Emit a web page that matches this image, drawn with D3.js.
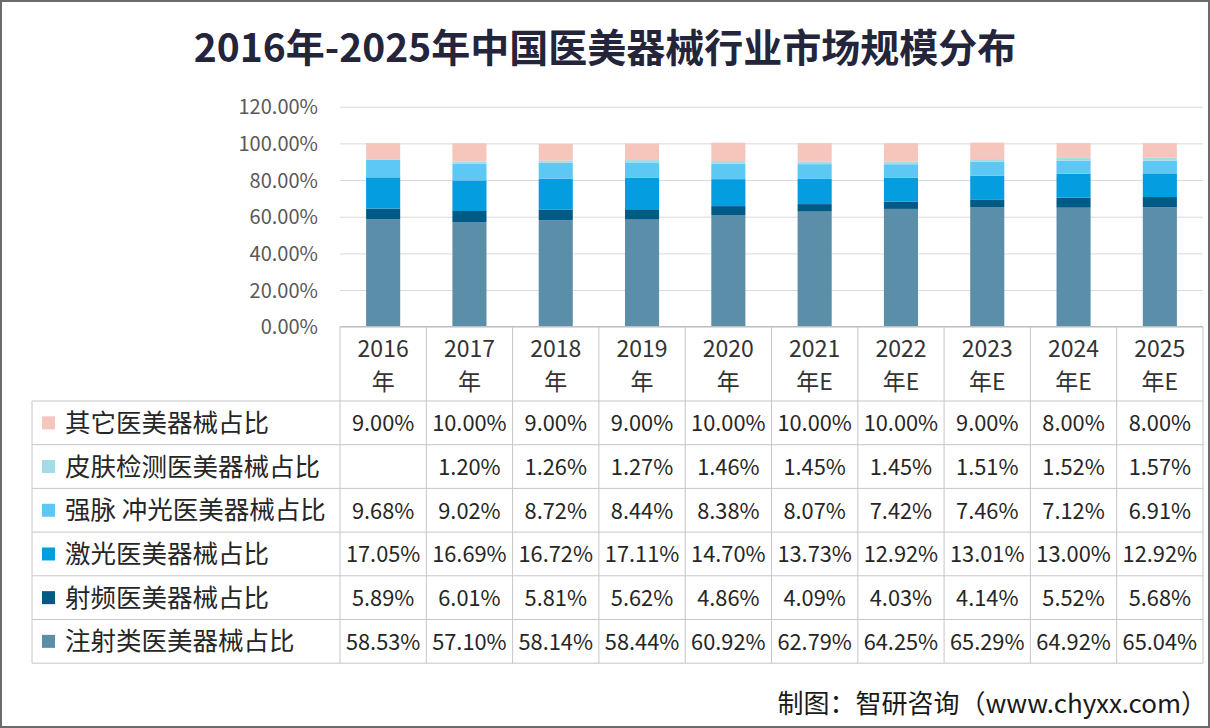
<!DOCTYPE html>
<html>
<head>
<meta charset="utf-8">
<script src="https://cdn.jsdelivr.net/npm/d3@7/dist/d3.min.js"></script>
<style>
html,body{margin:0;padding:0;background:#fff;}
svg{display:block;}
text{font-family:"Noto Sans CJK SC","Noto Sans",sans-serif;}
</style>
</head>
<body>
<svg id="chart" width="1210" height="728"></svg>
<script>
// ---- data ----
const years = ["2016","2017","2018","2019","2020","2021","2022","2023","2024","2025"];
const yearSuffix = ["年","年","年","年","年","年E","年E","年E","年E","年E"];
const seriesNames = ["其它医美器械占比","皮肤检测医美器械占比","强脉 冲光医美器械占比","激光医美器械占比","射频医美器械占比","注射类医美器械占比"];
const seriesKeys = ["other","skin","ipl","laser","rf","injection"];
const other     = [9.00,10.00,9.00,9.00,10.00,10.00,10.00,9.00,8.00,8.00];
const skin      = [null,1.20,1.26,1.27,1.46,1.45,1.45,1.51,1.52,1.57];
const ipl       = [9.68,9.02,8.72,8.44,8.38,8.07,7.42,7.46,7.12,6.91];
const laser     = [17.05,16.69,16.72,17.11,14.70,13.73,12.92,13.01,13.00,12.92];
const rf        = [5.89,6.01,5.81,5.62,4.86,4.09,4.03,4.14,5.52,5.68];
const injection = [58.53,57.10,58.14,58.44,60.92,62.79,64.25,65.29,64.92,65.04];
const yTicks = [0,20,40,60,80,100,120];
const seriesColors = ["#f6c5bc","#a3dbe8","#5dc8f3","#049ddf","#005a86","#5b8fa9"];

const valuesByKey = {other, skin, ipl, laser, rf, injection};
const rows = years.map((y,i) => {
  const r = {year:y};
  seriesKeys.forEach(k => r[k] = valuesByKey[k][i] == null ? 0 : valuesByKey[k][i]);
  return r;
});

// ---- layout ----
const svg = d3.select("#chart");
const W = 1210, H = 728;
const plotLeft = 340, plotRight = 1203;
const yBottom = 326.7, yTop = 106.7;
const legendLeft = 32;
const tableTop = 401, rowH = 43.7;

const x = d3.scaleBand().domain(years).range([plotLeft, plotRight]).padding(0);
const y = d3.scaleLinear().domain([0,120]).range([yBottom, yTop]);
const color = d3.scaleOrdinal().domain(seriesKeys).range(seriesColors);

// border
svg.append("rect").attr("x",1).attr("y",1).attr("width",W-2).attr("height",H-2)
  .attr("fill","#fff").attr("stroke","#6b6b6b").attr("stroke-width",2);

// title
svg.append("text").attr("x",605).attr("y",62).attr("text-anchor","middle")
  .attr("font-size",39).attr("font-weight",700).attr("fill","#24243a")
  .text("2016年-2025年中国医美器械行业市场规模分布");

// gridlines + y axis
const yAxis = d3.axisLeft(y).tickValues(yTicks).tickSize(-(plotRight-plotLeft))
  .tickFormat(d => d.toFixed(2)+"%");
const ga = svg.append("g").attr("transform",`translate(${plotLeft},0)`).call(yAxis);
ga.select(".domain").remove();
ga.selectAll(".tick line").attr("stroke","#d9d9d9").attr("stroke-width",1);
ga.selectAll(".tick text").attr("x",-22).attr("dy","0.35em")
  .attr("font-size",20).attr("fill","#595959")
  .attr("font-family","'Open Sans','Noto Sans',sans-serif");

// bars
const stack = d3.stack().keys(seriesKeys.slice().reverse());
const stacked = stack(rows);
const barW = x.bandwidth()*0.395;
svg.append("g").selectAll("g").data(stacked).join("g")
  .attr("fill", d => color(d.key))
  .selectAll("rect").data(d => d).join("rect")
  .attr("x", d => x(d.data.year) + (x.bandwidth()-barW)/2)
  .attr("width", barW)
  .attr("y", d => y(d[1]))
  .attr("height", d => Math.max(0, y(d[0]) - y(d[1])));

// ---- data table ----
const lineCol = "#c6c6c6";
const tg = svg.append("g");
tg.append("line").attr("x1",plotLeft).attr("x2",plotRight).attr("y1",yBottom).attr("y2",yBottom)
  .attr("stroke","#bfbfbf").attr("stroke-width",1.2);
const colEdges = years.map(d => x(d)).concat([plotRight]);
const tableBottom = tableTop + rowH*seriesNames.length;
tg.selectAll("line.v").data(colEdges).join("line").attr("class","v")
  .attr("x1",d=>d).attr("x2",d=>d).attr("y1",yBottom).attr("y2",tableBottom)
  .attr("stroke",lineCol);
tg.append("line").attr("x1",legendLeft).attr("x2",legendLeft).attr("y1",tableTop).attr("y2",tableBottom).attr("stroke",lineCol);
const rowEdges = d3.range(seriesNames.length+1).map(i => tableTop + i*rowH);
tg.selectAll("line.h").data(rowEdges).join("line").attr("class","h")
  .attr("x1",legendLeft).attr("x2",plotRight).attr("y1",d=>d).attr("y2",d=>d)
  .attr("stroke",lineCol);

// header years
const hg = tg.append("g").attr("font-size",23).attr("text-anchor","middle");
hg.selectAll("text.y1").data(years).join("text").attr("class","y1")
  .attr("x", d => x(d)+x.bandwidth()/2).attr("y",357).attr("fill","#333").text(d=>d);
hg.selectAll("text.y2").data(yearSuffix).join("text").attr("class","y2")
  .attr("x", (d,i) => x(years[i])+x.bandwidth()/2).attr("y",390).attr("fill","#333").text(d=>d);

// legend rows
seriesNames.forEach((name,ri) => {
  const cy = tableTop + ri*rowH + rowH/2;
  tg.append("rect").attr("x",42).attr("y",cy-6.5).attr("width",13).attr("height",13)
    .attr("fill",color(seriesKeys[ri]));
  tg.append("text").attr("x",65).attr("y",cy+9).attr("font-size",25.5).attr("fill","#262626").text(name);
  const vals = valuesByKey[seriesKeys[ri]];
  tg.selectAll(null).data(vals).join("text")
    .attr("x",(d,i) => x(years[i])+x.bandwidth()/2).attr("y",cy+8.5)
    .attr("text-anchor","middle").attr("font-size",21.8).attr("fill","#262626")
    .text(d => d == null ? "" : d.toFixed(2)+"%");
});

// footer
svg.append("text").attr("x",1207).attr("y",713).attr("text-anchor","end")
  .attr("font-size",26).attr("fill","#1a1a1a").text("制图：智研咨询（www.chyxx.com）");
</script>
</body>
</html>
